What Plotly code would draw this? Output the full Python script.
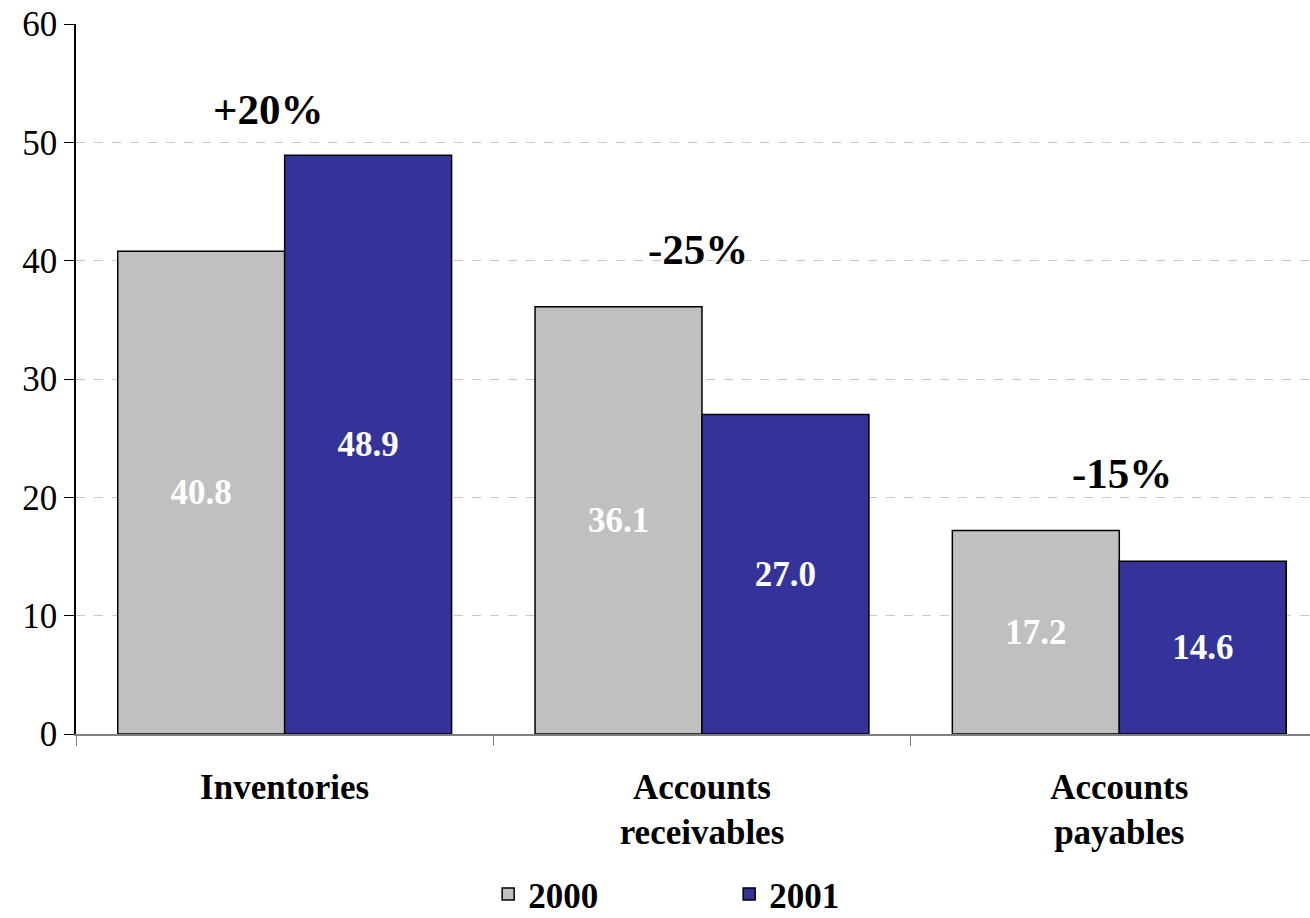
import plotly.graph_objects as go

categories = ["Inventories", "Accounts<br>receivables", "Accounts<br>payables"]
values_2000 = [40.8, 36.1, 17.2]
values_2001 = [48.9, 27.0, 14.6]
series_names = ["2000", "2001"]
y_ticks = [0, 10, 20, 30, 40, 50, 60]

FONT = "Times New Roman"
GRAY = "#C0C0C0"
BLUE = "#333399"

fig = go.Figure()
for name, vals, col in [(series_names[0], values_2000, GRAY), (series_names[1], values_2001, BLUE)]:
    fig.add_trace(go.Bar(
        x=categories, y=vals, name=name,
        marker=dict(color=col, line=dict(color="black", width=1.5)),
        text=[f"{v:.1f}" for v in vals],
        textposition="inside", insidetextanchor="middle",
        textfont=dict(family=FONT, size=35, color="white", weight="bold"),
        textangle=0, constraintext="none",
    ))

xshifts = [-16, -4, 3]
yshifts = [-9, 3, 3]
for i, cat in enumerate(categories):
    a, b = values_2000[i], values_2001[i]
    pct = round((b / a - 1) * 100)
    label = f"+{pct}%" if pct > 0 else f"{pct}%"
    fig.add_annotation(
        x=cat, y=max(a, b) + 4.6, text=f"<b>{label}</b>", showarrow=False,
        xshift=xshifts[i], yshift=yshifts[i],
        font=dict(family=FONT, size=43, color="black"),
    )

fig.update_layout(
    width=1310, height=918,
    margin=dict(l=76, r=0, t=24, b=184),
    paper_bgcolor="white", plot_bgcolor="white",
    barmode="group", bargap=0.2, bargroupgap=0,
    font=dict(family=FONT, size=35, color="black"),
    showlegend=True,
    legend=dict(
        orientation="h", x=0.334, xanchor="left",
        yref="container", y=0.026, yanchor="middle",
        font=dict(family=FONT, size=35, color="black", weight="bold"),
        entrywidth=196, entrywidthmode="pixels",
        borderwidth=0, tracegroupgap=0,
    ),
)
fig.update_xaxes(
    type="category", range=[-0.5, 2.457], automargin=False,
    showline=True, linecolor="#808080", linewidth=1.5,
    ticks="outside", tickson="boundaries", ticklen=10, tickcolor="#808080",
    showgrid=False,
    tickfont=dict(family=FONT, size=35, color="black", weight="bold"),
    ticklabelstandoff=21,
)
fig.update_yaxes(
    range=[0, 60], tickvals=y_ticks, automargin=False,
    showline=True, linecolor="black", linewidth=1.5,
    ticks="outside", ticklen=10, tickcolor="black",
    showgrid=True, gridcolor="#C8C8C8", griddash="dash", gridwidth=1,
    zeroline=False,
    tickfont=dict(family=FONT, size=35, color="black"),
)

fig.write_html("out.html", config={"displayModeBar": False},
               post_script="document.body.style.margin='0';")
